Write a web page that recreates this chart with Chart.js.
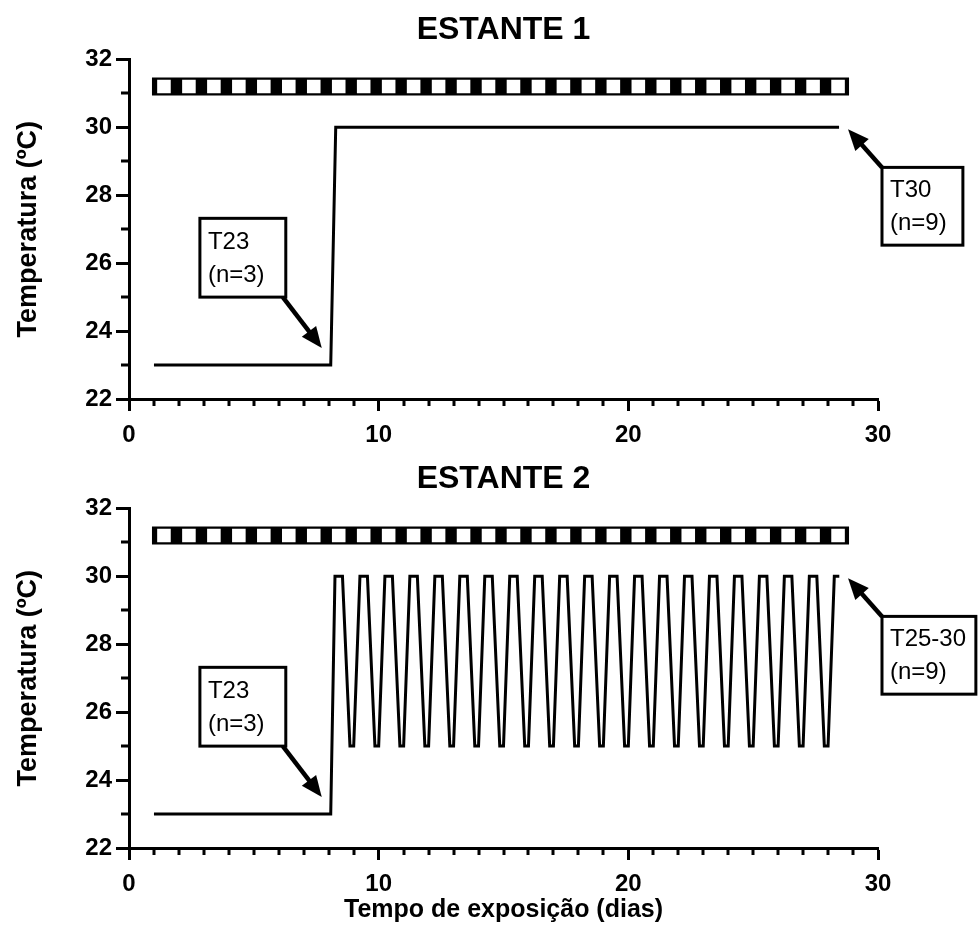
<!DOCTYPE html>
<html><head><meta charset="utf-8">
<script src="https://cdn.jsdelivr.net/npm/chart.js@4"></script>
<style>
html,body{margin:0;padding:0;background:#fff;}
.wrap{position:absolute;left:0;width:980px;}
</style>
</head><body>
<div class="wrap" style="top:0;height:449px"><canvas id="c1" width="980" height="449"></canvas></div>
<div class="wrap" style="top:449px;height:486px"><canvas id="c2" width="980" height="486"></canvas></div>
<script>
// ---------- data ----------
const chartTitles = ['ESTANTE 1', 'ESTANTE 2'];
const xTitle = 'Tempo de exposição (dias)';
const yTitle = 'Temperatura (ºC)';
const xTicks = [0, 10, 20, 30];
const xMinorTicks = [1,2,3,4,5,6,7,8,9,11,12,13,14,15,16,17,18,19,21,22,23,24,25,26,27,28,29];
const yTicks = [22, 24, 26, 28, 30, 32];
const yMinorTicks = [23, 25, 27, 29, 31];

// light/dark photoperiod bar
const photoBarX = [0.92, 28.84];
const photoBarY = [31.2, 31.2];
const lightPeriodX = [1.4,2.4,3.4,4.4,5.4,6.4,7.4,8.4,9.4,10.4,11.4,12.4,13.4,14.4,15.4,16.4,17.4,18.4,19.4,20.4,21.4,22.4,23.4,24.4,25.4,26.4,27.4,28.4];
const lightPeriodY = [31.2,31.2,31.2,31.2,31.2,31.2,31.2,31.2,31.2,31.2,31.2,31.2,31.2,31.2,31.2,31.2,31.2,31.2,31.2,31.2,31.2,31.2,31.2,31.2,31.2,31.2,31.2,31.2];

// Estante 1
const e1X = [1, 8.08, 8.28, 28.44];
const e1Y = [23, 23, 30, 30];

// Estante 2
const e2X = [1, 8.08,
  8.25, 8.55, 8.85, 9,
  9.25, 9.55, 9.85, 10,
  10.25, 10.55, 10.85, 11,
  11.25, 11.55, 11.85, 12,
  12.25, 12.55, 12.85, 13,
  13.25, 13.55, 13.85, 14,
  14.25, 14.55, 14.85, 15,
  15.25, 15.55, 15.85, 16,
  16.25, 16.55, 16.85, 17,
  17.25, 17.55, 17.85, 18,
  18.25, 18.55, 18.85, 19,
  19.25, 19.55, 19.85, 20,
  20.25, 20.55, 20.85, 21,
  21.25, 21.55, 21.85, 22,
  22.25, 22.55, 22.85, 23,
  23.25, 23.55, 23.85, 24,
  24.25, 24.55, 24.85, 25,
  25.25, 25.55, 25.85, 26,
  26.25, 26.55, 26.85, 27,
  27.25, 27.55, 27.85, 28,
  28.25, 28.45];
const e2Y = [23, 23,
  30, 30, 25, 25,
  30, 30, 25, 25,
  30, 30, 25, 25,
  30, 30, 25, 25,
  30, 30, 25, 25,
  30, 30, 25, 25,
  30, 30, 25, 25,
  30, 30, 25, 25,
  30, 30, 25, 25,
  30, 30, 25, 25,
  30, 30, 25, 25,
  30, 30, 25, 25,
  30, 30, 25, 25,
  30, 30, 25, 25,
  30, 30, 25, 25,
  30, 30, 25, 25,
  30, 30, 25, 25,
  30, 30, 25, 25,
  30, 30, 25, 25,
  30, 30, 25, 25,
  30, 30];

// annotation labels
const ann1Labels = [['T23', '(n=3)'], ['T30', '(n=9)']];
const ann2Labels = [['T23', '(n=3)'], ['T25-30', '(n=9)']];

// ---------- layout (data units) for annotations ----------
const annT23 = {box: [2.84, 27.32, 6.28, 25.0], from: [6.16, 25.0], tip: [7.72, 23.5]};
const annRight1 = {box: [30.16, 28.82, 33.4, 26.53], from: [30.16, 28.82], tip: [28.8, 29.94]};
const annRight2 = {box: [30.16, 28.82, 33.92, 26.53], from: [30.16, 28.82], tip: [28.8, 29.94]};

Chart.defaults.font.family = '"Liberation Sans", Arial, Helvetica, sans-serif';
Chart.defaults.color = '#000';

const pts = (xs, ys) => xs.map((x, i) => ({x: x, y: ys[i]}));

const minorTickPlugin = {
  id: 'minorTicks',
  afterDraw(chart) {
    const ctx = chart.ctx, xs = chart.scales.x, ys = chart.scales.y, ca = chart.chartArea;
    ctx.save();
    ctx.strokeStyle = '#000';
    ctx.lineWidth = 3;
    ctx.beginPath();
    xMinorTicks.forEach(v => {
      const px = Math.round(xs.getPixelForValue(v));
      ctx.moveTo(px, ca.bottom);
      ctx.lineTo(px, ca.bottom + 7);
    });
    yMinorTicks.forEach(v => {
      const py = Math.round(ys.getPixelForValue(v));
      ctx.moveTo(ca.left - 8, py);
      ctx.lineTo(ca.left, py);
    });
    ctx.stroke();
    ctx.restore();
  }
};

function drawArrow(ctx, x0, y0, x1, y1) {
  const ang = Math.atan2(y1 - y0, x1 - x0);
  const hl = 21, hw = 9;
  const bx = x1 - hl * Math.cos(ang), by = y1 - hl * Math.sin(ang);
  ctx.beginPath();
  ctx.lineWidth = 4.5;
  ctx.moveTo(x0, y0);
  ctx.lineTo(bx + 2 * Math.cos(ang), by + 2 * Math.sin(ang));
  ctx.stroke();
  ctx.beginPath();
  ctx.moveTo(x1, y1);
  ctx.lineTo(bx + hw * Math.sin(ang), by - hw * Math.cos(ang));
  ctx.lineTo(bx - hw * Math.sin(ang), by + hw * Math.cos(ang));
  ctx.closePath();
  ctx.fill();
}

function annotationPlugin(list) {
  return {
    id: 'boxAnnotations',
    afterDraw(chart) {
      const ctx = chart.ctx, xs = chart.scales.x, ys = chart.scales.y;
      ctx.save();
      ctx.strokeStyle = '#000';
      ctx.fillStyle = '#000';
      list.forEach(a => {
        const l = xs.getPixelForValue(a.pos.box[0]), t = ys.getPixelForValue(a.pos.box[1]);
        const r = xs.getPixelForValue(a.pos.box[2]), b = ys.getPixelForValue(a.pos.box[3]);
        drawArrow(ctx, xs.getPixelForValue(a.pos.from[0]), ys.getPixelForValue(a.pos.from[1]),
                  xs.getPixelForValue(a.pos.tip[0]), ys.getPixelForValue(a.pos.tip[1]));
        ctx.fillStyle = '#fff';
        ctx.fillRect(l, t, r - l, b - t);
        ctx.fillStyle = '#000';
        ctx.lineWidth = 3;
        ctx.strokeRect(l, t, r - l, b - t);
        ctx.font = '24px "Liberation Sans", Arial, sans-serif';
        ctx.textAlign = 'left';
        ctx.textBaseline = 'middle';
        const h = b - t;
        ctx.fillText(a.lines[0], l + 8, t + h * 0.30);
        ctx.fillText(a.lines[1], l + 8, t + h * 0.72);
      });
      ctx.restore();
    }
  };
}

function makeChart(id, canvasH, title, lineX, lineY, showXTitle, anns) {
  return new Chart(document.getElementById(id), {
    type: 'line',
    data: {
      datasets: [
        {
          data: pts(photoBarX, photoBarY),
          borderColor: '#000', borderWidth: 18, borderCapStyle: 'butt',
          pointRadius: 0, fill: false, order: 2
        },
        {
          data: pts(lightPeriodX, lightPeriodY),
          showLine: false, pointStyle: 'rect', pointRadius: 9.6,
          pointBackgroundColor: '#fff', pointBorderWidth: 0, pointBorderColor: '#fff', order: 1
        },
        {
          data: pts(lineX, lineY),
          borderColor: '#000', borderWidth: 3, borderJoinStyle: 'miter',
          pointRadius: 0, fill: false, tension: 0, order: 0
        }
      ]
    },
    options: {
      responsive: false,
      animation: false,
      events: [],
      layout: {padding: {left: 0, right: 102, top: 0, bottom: 0}},
      plugins: {
        legend: {display: false},
        tooltip: {enabled: false},
        title: {
          display: true, text: title, color: '#000', fullSize: false,
          font: {size: 32, weight: 'bold'},
          padding: {top: 11, bottom: 10}
        }
      },
      scales: {
        x: {
          type: 'linear', min: 0, max: 30,
          afterBuildTicks: s => { s.ticks = xTicks.map(v => ({value: v})); },
          afterFit: s => { s.height = canvasH - 399; },
          ticks: {font: {size: 24, weight: 'bold'}, color: '#000', padding: 10, maxRotation: 0, autoSkip: false},
          grid: {drawOnChartArea: false, drawTicks: true, tickLength: 12, tickWidth: 3, tickColor: '#000'},
          border: {display: true, width: 3, color: '#000'},
          title: {display: showXTitle, text: xTitle, color: '#000', font: {size: 25, weight: 'bold'}, padding: {top: 0, bottom: 10}}
        },
        y: {
          type: 'linear', min: 22, max: 32,
          afterBuildTicks: s => { s.ticks = yTicks.map(v => ({value: v})); },
          afterFit: s => { s.width = 129; },
          ticks: {font: {size: 24, weight: 'bold'}, color: '#000', padding: 4, autoSkip: false},
          grid: {drawOnChartArea: false, drawTicks: true, tickLength: 13, tickWidth: 3, tickColor: '#000'},
          border: {display: true, width: 3, color: '#000'},
          title: {display: true, text: yTitle, color: '#000', font: {size: 27, weight: 'bold'}, padding: {top: 12, bottom: 0}}
        }
      }
    },
    plugins: [minorTickPlugin, annotationPlugin(anns)]
  });
}

makeChart('c1', 449, chartTitles[0], e1X, e1Y, false,
  [{pos: annT23, lines: ann1Labels[0]}, {pos: annRight1, lines: ann1Labels[1]}]);
makeChart('c2', 486, chartTitles[1], e2X, e2Y, true,
  [{pos: annT23, lines: ann2Labels[0]}, {pos: annRight2, lines: ann2Labels[1]}]);
</script>
</body></html>
